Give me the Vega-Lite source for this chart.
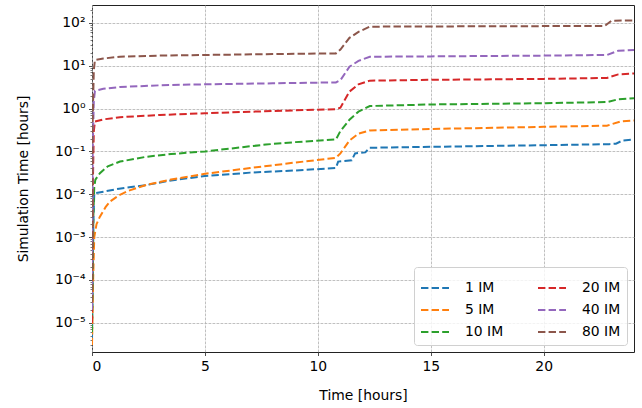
{
  "$schema": "https://vega.github.io/schema/vega-lite/v6.json",
  "width": 542,
  "height": 347,
  "autosize": {"type": "none"},
  "padding": {"left": 92, "top": 5, "right": 8, "bottom": 56},
  "config": {
    "font": "DejaVu Sans",
    "view": {"stroke": "#222", "strokeWidth": 1},
    "axis": {
      "labelFont": "DejaVu Sans", "titleFont": "DejaVu Sans",
      "labelFontSize": 13.9, "titleFontSize": 13.9, "titleFontWeight": "normal",
      "labelColor": "#000", "titleColor": "#000",
      "tickColor": "#222", "tickSize": 3.5, "tickWidth": 0.8,
      "domain": false,
      "gridColor": "#b0b0b0", "gridWidth": 0.8, "gridDash": [2.8, 1.2]
    },
    "legend": {"labelFont": "DejaVu Sans", "labelFontSize": 13.9, "labelColor": "#000"}
  },
  "data": {"values": [
    {"s":"1 IM","t":0,"v":0.000004},{"s":"1 IM","t":0.03,"v":0.0001},{"s":"1 IM","t":0.06,"v":0.002},{"s":"1 IM","t":0.1,"v":0.0105},{"s":"1 IM","t":0.5,"v":0.0115},{"s":"1 IM","t":1.2,"v":0.0135},{"s":"1 IM","t":2.4,"v":0.0164},{"s":"1 IM","t":3.5,"v":0.021},{"s":"1 IM","t":5,"v":0.0266},{"s":"1 IM","t":7,"v":0.032},{"s":"1 IM","t":9,"v":0.036},{"s":"1 IM","t":10.8,"v":0.041},{"s":"1 IM","t":10.9,"v":0.058},{"s":"1 IM","t":11.5,"v":0.062},{"s":"1 IM","t":11.65,"v":0.09},{"s":"1 IM","t":12.1,"v":0.095},{"s":"1 IM","t":12.3,"v":0.122},{"s":"1 IM","t":15,"v":0.128},{"s":"1 IM","t":20,"v":0.14},{"s":"1 IM","t":22.9,"v":0.148},{"s":"1 IM","t":23.2,"v":0.152},{"s":"1 IM","t":23.5,"v":0.18},{"s":"1 IM","t":24,"v":0.19},
    {"s":"5 IM","t":0,"v":0.000003},{"s":"5 IM","t":0.05,"v":0.0001},{"s":"5 IM","t":0.1,"v":0.001},{"s":"5 IM","t":0.2,"v":0.002},{"s":"5 IM","t":0.35,"v":0.003},{"s":"5 IM","t":0.6,"v":0.005},{"s":"5 IM","t":0.8,"v":0.0068},{"s":"5 IM","t":1.2,"v":0.0095},{"s":"5 IM","t":1.6,"v":0.012},{"s":"5 IM","t":2.4,"v":0.0165},{"s":"5 IM","t":3.5,"v":0.022},{"s":"5 IM","t":5,"v":0.03},{"s":"5 IM","t":7,"v":0.041},{"s":"5 IM","t":9,"v":0.055},{"s":"5 IM","t":10.8,"v":0.071},{"s":"5 IM","t":11.0,"v":0.09},{"s":"5 IM","t":11.4,"v":0.18},{"s":"5 IM","t":11.8,"v":0.26},{"s":"5 IM","t":12.3,"v":0.31},{"s":"5 IM","t":15,"v":0.335},{"s":"5 IM","t":20,"v":0.375},{"s":"5 IM","t":22.8,"v":0.4},{"s":"5 IM","t":23.4,"v":0.5},{"s":"5 IM","t":24,"v":0.53},
    {"s":"10 IM","t":0,"v":0.000006},{"s":"10 IM","t":0.03,"v":0.0001},{"s":"10 IM","t":0.06,"v":0.003},{"s":"10 IM","t":0.1,"v":0.015},{"s":"10 IM","t":0.15,"v":0.022},{"s":"10 IM","t":0.35,"v":0.031},{"s":"10 IM","t":0.7,"v":0.045},{"s":"10 IM","t":1.24,"v":0.058},{"s":"10 IM","t":2.4,"v":0.075},{"s":"10 IM","t":3.5,"v":0.087},{"s":"10 IM","t":5,"v":0.1},{"s":"10 IM","t":7.7,"v":0.145},{"s":"10 IM","t":9,"v":0.165},{"s":"10 IM","t":10.8,"v":0.19},{"s":"10 IM","t":11.0,"v":0.3},{"s":"10 IM","t":11.4,"v":0.55},{"s":"10 IM","t":11.8,"v":0.85},{"s":"10 IM","t":12.3,"v":1.15},{"s":"10 IM","t":15,"v":1.25},{"s":"10 IM","t":20,"v":1.34},{"s":"10 IM","t":22.8,"v":1.42},{"s":"10 IM","t":23.3,"v":1.65},{"s":"10 IM","t":24,"v":1.75},
    {"s":"20 IM","t":0,"v":0.00001},{"s":"20 IM","t":0.03,"v":0.01},{"s":"20 IM","t":0.08,"v":0.3},{"s":"20 IM","t":0.13,"v":0.5},{"s":"20 IM","t":0.5,"v":0.56},{"s":"20 IM","t":1.24,"v":0.63},{"s":"20 IM","t":3,"v":0.71},{"s":"20 IM","t":5,"v":0.78},{"s":"20 IM","t":8,"v":0.88},{"s":"20 IM","t":10.8,"v":0.97},{"s":"20 IM","t":11.0,"v":1.05},{"s":"20 IM","t":11.4,"v":2.5},{"s":"20 IM","t":11.8,"v":3.7},{"s":"20 IM","t":12.3,"v":4.5},{"s":"20 IM","t":15,"v":4.7},{"s":"20 IM","t":20,"v":4.95},{"s":"20 IM","t":22.8,"v":5.2},{"s":"20 IM","t":23.3,"v":6.3},{"s":"20 IM","t":24,"v":6.6},
    {"s":"40 IM","t":0,"v":0.00002},{"s":"40 IM","t":0.03,"v":0.1},{"s":"40 IM","t":0.08,"v":1.5},{"s":"40 IM","t":0.13,"v":2.6},{"s":"40 IM","t":0.5,"v":2.9},{"s":"40 IM","t":1.24,"v":3.2},{"s":"40 IM","t":3,"v":3.5},{"s":"40 IM","t":5,"v":3.7},{"s":"40 IM","t":8,"v":3.9},{"s":"40 IM","t":10.8,"v":4.1},{"s":"40 IM","t":11.0,"v":4.6},{"s":"40 IM","t":11.4,"v":9.5},{"s":"40 IM","t":11.8,"v":13},{"s":"40 IM","t":12.3,"v":16.3},{"s":"40 IM","t":15,"v":16.6},{"s":"40 IM","t":20,"v":17.3},{"s":"40 IM","t":22.8,"v":17.9},{"s":"40 IM","t":23.3,"v":22.5},{"s":"40 IM","t":24,"v":23.5},
    {"s":"80 IM","t":0,"v":0.00003},{"s":"80 IM","t":0.03,"v":0.5},{"s":"80 IM","t":0.08,"v":8},{"s":"80 IM","t":0.13,"v":13.6},{"s":"80 IM","t":0.5,"v":14.8},{"s":"80 IM","t":1.24,"v":16.3},{"s":"80 IM","t":3,"v":17.3},{"s":"80 IM","t":5,"v":17.9},{"s":"80 IM","t":8,"v":18.8},{"s":"80 IM","t":10.8,"v":19.5},{"s":"80 IM","t":11.0,"v":24},{"s":"80 IM","t":11.4,"v":45},{"s":"80 IM","t":11.8,"v":62},{"s":"80 IM","t":12.3,"v":82},{"s":"80 IM","t":15,"v":83},{"s":"80 IM","t":20,"v":84.5},{"s":"80 IM","t":22.7,"v":85},{"s":"80 IM","t":23.0,"v":113},{"s":"80 IM","t":24,"v":115}
  ]},
  "layer": [
    {
      "mark": {"type": "line", "opacity": 0},
      "encoding": {
        "x": {"field": "t", "type": "quantitative", "scale": {"domain": [0, 24], "nice": false, "zero": false},
              "axis": {"values": [0, 5, 10, 15, 20], "title": "Time [hours]", "titlePadding": 16, "labelPadding": 3.5, "grid": true}},
        "y": {"field": "v", "type": "quantitative",
              "scale": {"type": "log", "domain": [0.00000207, 263], "nice": false},
              "axis": {"orient": "left", "values": [2e-6,3e-6,4e-6,5e-6,6e-6,7e-6,8e-6,9e-6,2e-5,3e-5,4e-5,5e-5,6e-5,7e-5,8e-5,9e-5,2e-4,3e-4,4e-4,5e-4,6e-4,7e-4,8e-4,9e-4,2e-3,3e-3,4e-3,5e-3,6e-3,7e-3,8e-3,9e-3,0.02,0.03,0.04,0.05,0.06,0.07,0.08,0.09,0.2,0.3,0.4,0.5,0.6,0.7,0.8,0.9,2,3,4,5,6,7,8,9,20,30,40,50,60,70,80,90,200],
                       "labels": false, "grid": false, "tickSize": 2, "tickWidth": 0.6, "title": null}},
        "detail": {"field": "s"}
      }
    },
    {
      "mark": {"type": "line", "strokeWidth": 2, "strokeDash": [7.4, 3.2], "clip": true},
      "encoding": {
        "x": {"field": "t", "type": "quantitative", "scale": {"domain": [0, 24], "nice": false, "zero": false},
              "axis": {"values": [0, 5, 10, 15, 20], "title": "Time [hours]", "titlePadding": 16, "labelPadding": 3.5, "grid": true}},
        "y": {"field": "v", "type": "quantitative",
              "scale": {"type": "log", "domain": [0.00000207, 263], "nice": false},
              "axis": {"orient": "left", "values": [1e-5, 1e-4, 1e-3, 1e-2, 0.1, 1, 10, 100], "grid": true,
                       "title": "Simulation Time [hours]", "titlePadding": 24, "labelPadding": 3.5,
                       "labelExpr": "'10' + (round(log(datum.value)/LN10) < 0 ? '⁻' : '') + ['⁰','¹','²','³','⁴','⁵'][abs(round(log(datum.value)/LN10))]"}},
        "color": {"field": "s", "type": "nominal",
                  "scale": {"domain": ["1 IM", "5 IM", "10 IM", "20 IM", "40 IM", "80 IM"],
                            "range": ["#1f77b4", "#ff7f0e", "#2ca02c", "#d62728", "#9467bd", "#8c564b"]},
                  "legend": {"title": null, "orient": "bottom-right", "offset": 7, "columns": 2,
                             "symbolType": "stroke", "symbolSize": 784, "symbolStrokeWidth": 2, "symbolDash": [7.4, 3.2],
                             "labelOffset": 15, "rowPadding": 0, "columnPadding": 30,
                             "padding": 6, "strokeColor": "#d0d0d0", "fillColor": "rgba(255,255,255,0.8)", "cornerRadius": 3}}
      }
    }
  ],
  "resolve": {"axis": {"y": "independent"}}
}
